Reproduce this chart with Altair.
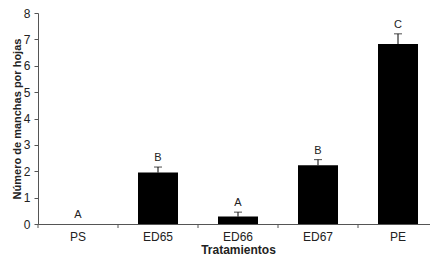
import altair as alt
import pandas as pd

categories = ["PS", "ED65", "ED66", "ED67", "PE"]
means = [0.0, 1.95, 0.28, 2.23, 6.82]
upper = [0.0, 2.16, 0.45, 2.44, 7.21]
letters = ["A", "B", "A", "B", "C"]

df = pd.DataFrame({"cat": categories, "mean": means, "upper": upper, "letter": letters})

W = 400
H = 211
FONT = "Liberation Sans"

xscale = alt.Scale(domain=categories, paddingInner=0.5, paddingOuter=0.25)
yscale = alt.Scale(domain=[0, 8], nice=False)

x = alt.X("cat:N", scale=xscale, sort=categories,
          axis=alt.Axis(title="Tratamientos", labelAngle=0, ticks=False, labelPadding=7,
                        labelFont=FONT, labelFontSize=12, labelColor="#222",
                        titleFont=FONT, titleFontSize=12, titleFontWeight="bold", titleColor="#222",
                        titlePadding=2, domainColor="#555"))
y = alt.Y("mean:Q", scale=yscale,
          axis=alt.Axis(title="Número de manchas por hojas", values=list(range(9)), tickCount=9,
                        grid=False, tickSize=4, labelPadding=4, tickColor="#555", domainColor="#555",
                        labelFont=FONT, labelFontSize=12, labelColor="#222",
                        titleFont=FONT, titleFontSize=11, titleFontWeight="bold", titleColor="#222",
                        titlePadding=1))

base = alt.Chart(df)
xe = alt.X("cat:N", scale=xscale, sort=categories)
bars = base.mark_bar(color="black").encode(x=x, y=y)
err = base.transform_filter("datum.upper > datum.mean").mark_rule(color="black", strokeWidth=1).encode(
    x=xe, y=alt.Y("mean:Q", scale=yscale), y2="upper:Q")
caps = base.transform_filter("datum.upper > datum.mean").mark_tick(
    color="black", thickness=1, size=8, orient="horizontal").encode(
    x=xe, y=alt.Y("upper:Q", scale=yscale))
txt = base.mark_text(dy=-9, font=FONT, fontSize=11, color="#222").encode(
    x=xe, y=alt.Y("upper:Q", scale=yscale), text="letter:N")
xticks = base.mark_rule(color="#555", strokeWidth=1, xOffset=-40).encode(
    x=xe, y=alt.value(H), y2=alt.value(H + 4))

chart = alt.layer(bars, err, caps, txt, xticks).properties(
    width=W, height=H,
    autosize=alt.AutoSizeParams(type="none"),
    padding={"left": 30, "top": 5, "right": -8, "bottom": 36},
).configure_view(stroke=None).configure_axis(domainWidth=1)

chart.save("out.html", embed_options={"renderer": "svg", "actions": False})
